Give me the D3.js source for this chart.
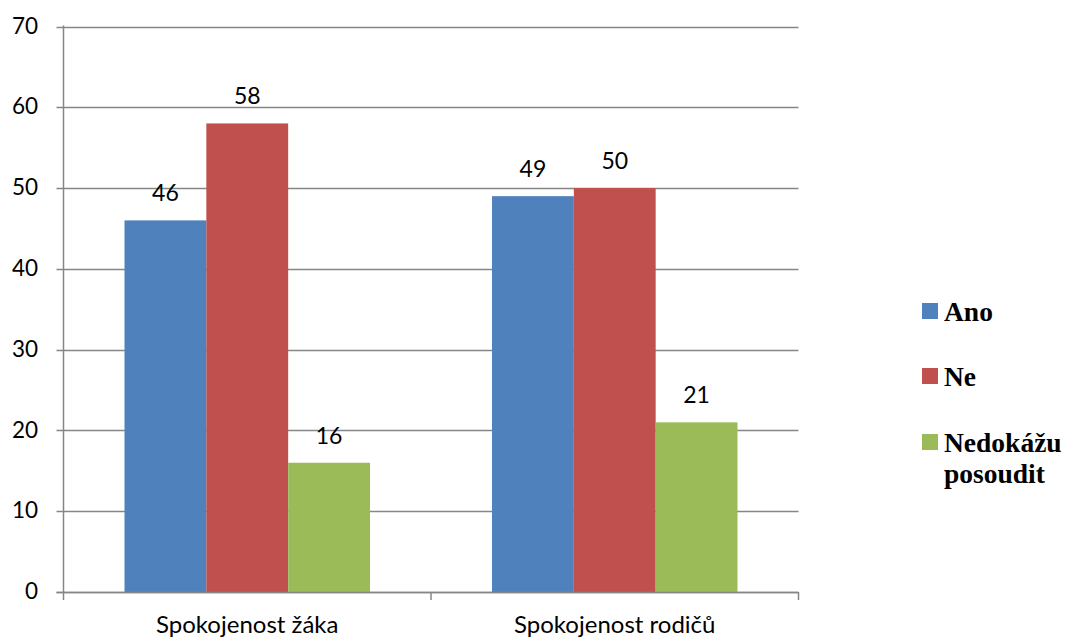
<!DOCTYPE html>
<html>
<head>
<meta charset="utf-8">
<script src="https://cdn.jsdelivr.net/npm/d3@7"></script>
<style>
  html, body { margin: 0; padding: 0; background: #fff; }
  svg { display: block; }
</style>
</head>
<body>
<svg id="chart" width="1072" height="639"></svg>
<script>
// Survey results: satisfaction of pupils and parents
const categories = ["Spokojenost žáka", "Spokojenost rodičů"];
const seriesNames = ["Ano", "Ne", "Nedokážu posoudit"];
const ano = [46, 49];
const ne = [58, 50];
const nedokazu = [16, 21];
const yTicks = [0, 10, 20, 30, 40, 50, 60, 70];

const colors = ["#4f81bd", "#c0504d", "#9bbb59"];
const seriesValues = [ano, ne, nedokazu];

const svg = d3.select("#chart");
const plot = { left: 63.5, right: 798.5, top: 26.5, bottom: 592 };

const x = d3.scaleBand().domain(categories).range([plot.left, plot.right]).paddingInner(0).paddingOuter(0);
const y = d3.scaleLinear().domain([0, 70]).range([plot.bottom, plot.top]);

const groupInset = 0.166;
const axisFont = "Lato, 'Open Sans', sans-serif";
const gridColor = "#868686";

// horizontal gridlines
svg.append("g").selectAll("line").data(yTicks).join("line")
  .attr("x1", plot.left - 7).attr("x2", plot.right)
  .attr("y1", d => Math.round(y(d)) + 0.5).attr("y2", d => Math.round(y(d)) + 0.5)
  .attr("stroke", gridColor).attr("stroke-width", 1.5);

// y tick labels
svg.append("g").selectAll("text").data(yTicks).join("text")
  .attr("x", 38).attr("y", d => y(d) - 1)
  .attr("dy", "0.36em")
  .attr("text-anchor", "end")
  .attr("font-family", axisFont).attr("font-size", 22.5)
  .attr("fill", "#000")
  .text(d => d);

// bars, grouped by category
const inner = d3.scaleBand().domain(d3.range(seriesNames.length))
  .range([x.bandwidth() * groupInset, x.bandwidth() * (1 - groupInset)]);

const groups = svg.append("g").selectAll("g").data(categories).join("g")
  .attr("transform", d => `translate(${x(d)},0)`);

groups.each(function(cat, ci) {
  const g = d3.select(this);
  seriesValues.forEach((vals, si) => {
    const v = vals[ci];
    g.append("rect")
      .attr("x", inner(si))
      .attr("y", y(v))
      .attr("width", inner.bandwidth())
      .attr("height", y(0) - y(v))
      .attr("fill", colors[si]);
    g.append("text")
      .attr("x", inner(si) + inner.bandwidth() / 2)
      .attr("y", y(v) - 19)
      .attr("text-anchor", "middle")
      .attr("font-family", axisFont).attr("font-size", 23)
      .attr("fill", "#000")
      .text(v);
  });
});

// axis lines
svg.append("line")
  .attr("x1", plot.left).attr("x2", plot.left)
  .attr("y1", plot.top - 1).attr("y2", plot.bottom)
  .attr("stroke", gridColor).attr("stroke-width", 1.5);
svg.append("line")
  .attr("x1", plot.left - 7).attr("x2", plot.right)
  .attr("y1", plot.bottom + 0.5).attr("y2", plot.bottom + 0.5)
  .attr("stroke", gridColor).attr("stroke-width", 1.5);

// category boundary ticks
const boundaries = [plot.left, x(categories[1]), plot.right];
svg.append("g").selectAll("line").data(boundaries).join("line")
  .attr("x1", d => d).attr("x2", d => d)
  .attr("y1", plot.bottom).attr("y2", plot.bottom + 8)
  .attr("stroke", gridColor).attr("stroke-width", 1.5);

// category labels
svg.append("g").selectAll("text").data(categories).join("text")
  .attr("x", d => x(d) + x.bandwidth() / 2)
  .attr("y", 633)
  .attr("text-anchor", "middle")
  .attr("font-family", axisFont).attr("font-size", 24)
  .attr("fill", "#000")
  .text(d => d);

// legend
const legendFont = "'Liberation Serif', 'Times New Roman', serif";
const legendItems = [
  { lines: ["Ano"], y: 303 },
  { lines: ["Ne"], y: 368 },
  { lines: ["Nedokážu", "posoudit"], y: 434 }
];
const legend = svg.append("g");
legendItems.forEach((item, i) => {
  legend.append("rect")
    .attr("x", 922).attr("y", item.y)
    .attr("width", 16).attr("height", 16)
    .attr("fill", colors[i]);
  const t = legend.append("text")
    .attr("x", 944).attr("y", item.y + 18)
    .attr("font-family", legendFont).attr("font-size", 27.5)
    .attr("font-weight", "bold").attr("fill", "#000");
  item.lines.forEach((ln, li) => {
    t.append("tspan").attr("x", 944).attr("dy", li === 0 ? 0 : 31).text(ln);
  });
});
</script>
</body>
</html>
